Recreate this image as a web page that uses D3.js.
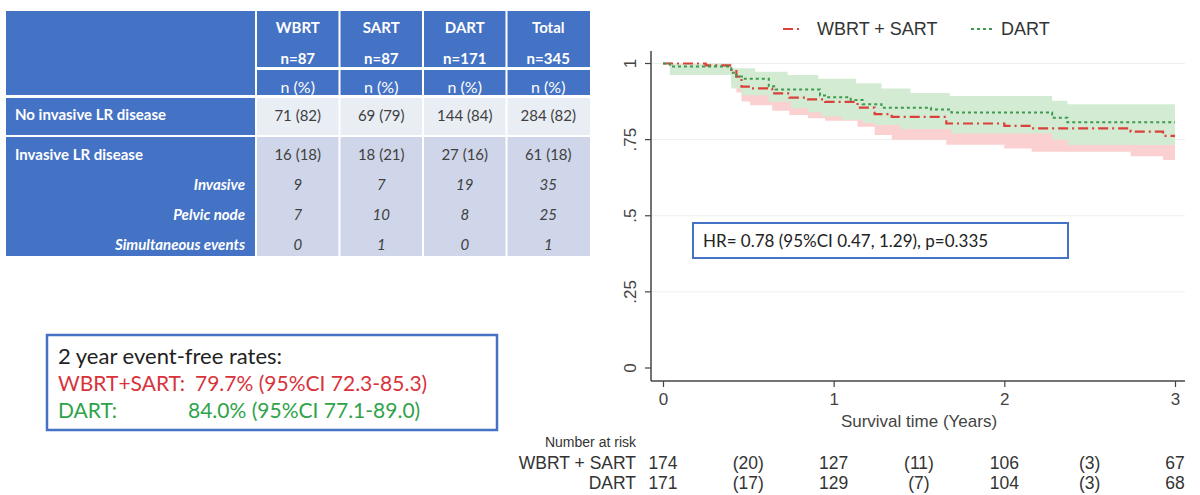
<!DOCTYPE html>
<html>
<head>
<meta charset="utf-8">
<script src="https://cdn.jsdelivr.net/npm/d3@7"></script>
<style>
  body { margin: 0; background: #fff; }
  svg { display: block; }
</style>
</head>
<body>
<svg width="1200" height="495"></svg>
<script>
// ---- table data ----
var tableCols = ["WBRT", "SART", "DART", "Total"];
var tableN = ["n=87", "n=87", "n=171", "n=345"];
var noInvasive = ["71 (82)", "69 (79)", "144 (84)", "284 (82)"];
var invasiveLR = ["16 (18)", "18 (21)", "27 (16)", "61 (18)"];
var subLabels = ["Invasive", "Pelvic node", "Simultaneous events"];
var subValues = [
  ["9", "7", "19", "35"],
  ["7", "10", "8", "25"],
  ["0", "1", "0", "1"]
];

// ---- KM data ----
var wsTime = [0, 0.25, 0.40, 0.43, 0.46, 0.51, 0.64, 0.74, 0.85, 0.95, 1.14, 1.24, 1.34, 1.66, 2.00, 2.16, 2.74, 2.93, 3.0];
var wsSurv = [1, 0.994, 0.979, 0.957, 0.924, 0.918, 0.902, 0.888, 0.882, 0.874, 0.855, 0.834, 0.825, 0.803, 0.795, 0.787, 0.776, 0.762, 0.762];
var wsLo = [1, 0.965, 0.93, 0.905, 0.875, 0.863, 0.845, 0.831, 0.820, 0.812, 0.792, 0.765, 0.750, 0.733, 0.721, 0.710, 0.695, 0.683, 0.683];
var wsHi = [1, 1, 0.98, 0.97, 0.955, 0.95, 0.94, 0.93, 0.925, 0.92, 0.90, 0.885, 0.877, 0.86, 0.853, 0.846, 0.838, 0.826, 0.826];

var dartTime = [0, 0.04, 0.40, 0.43, 0.47, 0.62, 0.66, 0.92, 0.96, 1.10, 1.17, 1.28, 1.57, 1.69, 2.28, 2.37, 3.0];
var dartSurv = [1, 0.990, 0.970, 0.957, 0.950, 0.925, 0.915, 0.895, 0.889, 0.880, 0.866, 0.855, 0.849, 0.839, 0.822, 0.807, 0.807];

var dartHiTime = [0, 0.40, 0.54, 0.73, 0.91, 1.13, 1.28, 1.45, 1.68, 2.28, 2.37, 3.0];
var dartHi = [1, 0.984, 0.973, 0.962, 0.950, 0.935, 0.918, 0.903, 0.893, 0.878, 0.866, 0.866];
var dartLoTime = [0, 0.04, 0.40, 0.46, 0.62, 0.75, 0.85, 0.93, 1.05, 1.17, 1.24, 1.39, 1.69, 2.28, 2.37, 3.0];
var dartLo = [1, 0.962, 0.918, 0.896, 0.874, 0.853, 0.840, 0.826, 0.815, 0.805, 0.798, 0.785, 0.770, 0.750, 0.732, 0.732];

var yTicks = [0, 0.25, 0.5, 0.75, 1];
var yTickLabels = ["0", ".25", ".5", ".75", "1"];
var xTicks = [0, 1, 2, 3];

var riskTimes = [0, 0.5, 1, 1.5, 2, 2.5, 3];
var riskWS = ["174", "(20)", "127", "(11)", "106", "(3)", "67"];
var riskDART = ["171", "(17)", "129", "(7)", "104", "(3)", "68"];

var svg = d3.select("svg");
var tblFont = "Lato, 'Open Sans', sans-serif";
var kmFont = "'Liberation Sans', Arial, sans-serif";
var blue = "#4472c4";

// ---- table ----
var tx = d3.scaleBand().domain(tableCols).range([256, 590]).paddingInner(0);
var t = svg.append("g");

t.append("rect").attr("x", 6).attr("y", 11).attr("width", 584).attr("height", 245).attr("fill", blue);
// data cell backgrounds
t.selectAll(".r1").data(tableCols).enter().append("rect")
  .attr("x", function(d) { return tx(d); })
  .attr("y", 98).attr("width", tx.bandwidth()).attr("height", 37)
  .attr("fill", "#e9edf4");
t.selectAll(".r2").data(tableCols).enter().append("rect")
  .attr("x", function(d) { return tx(d); })
  .attr("y", 137).attr("width", tx.bandwidth()).attr("height", 119)
  .attr("fill", "#cfd6e9");
// white separators
t.append("rect").attr("x", 256).attr("y", 67).attr("width", 334).attr("height", 3).attr("fill", "#fff");
t.append("rect").attr("x", 6).attr("y", 95).attr("width", 584).attr("height", 3).attr("fill", "#fff");
t.append("rect").attr("x", 6).attr("y", 135).attr("width", 584).attr("height", 2).attr("fill", "#fff");
t.selectAll(".vsep").data(tableCols).enter().append("rect")
  .attr("x", function(d) { return tx(d) - 1; })
  .attr("y", 11).attr("width", 2).attr("height", 245).attr("fill", "#fff");

function cellText(sel, y, vals, opts) {
  sel.selectAll(null).data(vals).enter().append("text")
    .attr("x", function(d, i) { return tx(tableCols[i]) + tx.bandwidth() / 2; })
    .attr("y", y)
    .attr("text-anchor", "middle")
    .attr("dominant-baseline", "central")
    .attr("font-family", tblFont)
    .attr("font-size", opts.size || 15)
    .attr("font-weight", opts.bold ? "bold" : "normal")
    .attr("font-style", opts.italic ? "italic" : "normal")
    .attr("fill", opts.color)
    .text(function(d) { return d; });
}
cellText(t, 27, tableCols, { bold: true, color: "#fff", size: 15 });
cellText(t, 58, tableN, { bold: true, color: "#fff", size: 15 });
cellText(t, 86, tableCols.map(function() { return "n (%)"; }), { color: "#fff", size: 16 });
cellText(t, 115, noInvasive, { color: "#404040" });
cellText(t, 154, invasiveLR, { color: "#404040" });
subValues.forEach(function(row, i) {
  cellText(t, 184 + i * 30, row, { italic: true, color: "#404040" });
});

t.append("text").attr("x", 15).attr("y", 114).attr("dominant-baseline", "central")
  .attr("font-family", tblFont).attr("font-size", 15).attr("font-weight", "bold")
  .attr("fill", "#fff").text("No invasive LR disease");
t.append("text").attr("x", 15).attr("y", 154).attr("dominant-baseline", "central")
  .attr("font-family", tblFont).attr("font-size", 15).attr("font-weight", "bold")
  .attr("fill", "#fff").text("Invasive LR disease");
t.selectAll(".sub").data(subLabels).enter().append("text")
  .attr("x", 245).attr("y", function(d, i) { return 184 + i * 30; })
  .attr("text-anchor", "end").attr("dominant-baseline", "central")
  .attr("font-family", tblFont).attr("font-size", 15)
  .attr("font-weight", "bold").attr("font-style", "italic")
  .attr("fill", "#fff").text(function(d) { return d; });

// ---- event-free box ----
var b = svg.append("g");
b.append("rect").attr("x", 47).attr("y", 335).attr("width", 450).attr("height", 95)
  .attr("fill", "#fff").attr("stroke", blue).attr("stroke-width", 2.5);
b.append("text").attr("x", 58).attr("y", 364).attr("font-family", tblFont).attr("font-size", 22)
  .attr("fill", "#222").text("2 year event-free rates:");
b.append("text").attr("x", 58).attr("y", 391).attr("font-family", tblFont).attr("font-size", 21)
  .attr("fill", "#d8333c").text("WBRT+SART:");
b.append("text").attr("x", 195).attr("y", 391).attr("font-family", tblFont).attr("font-size", 21)
  .attr("fill", "#d8333c").text("79.7% (95%CI 72.3-85.3)");
b.append("text").attr("x", 58).attr("y", 418).attr("font-family", tblFont).attr("font-size", 21)
  .attr("fill", "#2fa34a").text("DART:");
b.append("text").attr("x", 188).attr("y", 418).attr("font-family", tblFont).attr("font-size", 21)
  .attr("fill", "#2fa34a").text("84.0% (95%CI 77.1-89.0)");

// ---- KM plot ----
var x = d3.scaleLinear().domain([0, 3]).range([663, 1175]);
var y = d3.scaleLinear().domain([0, 1]).range([368, 63.5]);
var g = svg.append("g");

g.selectAll(".grid").data(yTicks.filter(function(d) { return d > 0; })).enter().append("line")
  .attr("x1", 651).attr("x2", 1185)
  .attr("y1", function(d) { return y(d); }).attr("y2", function(d) { return y(d); })
  .attr("stroke", "#e9eff2").attr("stroke-width", 1);

function pts(ts, vs) {
  return ts.map(function(d, i) { return [d, vs[i]]; });
}
var band = d3.area().curve(d3.curveStepAfter)
  .x(function(d) { return x(d[0]); })
  .y0(function(d) { return y(d[1]); })
  .y1(function(d) { return y(d[2]); });

// merge lo/hi step functions on a common grid
function stepVal(ts, vs, tt) {
  var v = vs[0];
  for (var i = 0; i < ts.length; i++) if (ts[i] <= tt + 1e-9) v = vs[i];
  return v;
}
function bandPts(loT, lo, hiT, hi) {
  var all = Array.from(new Set(loT.concat(hiT))).sort(d3.ascending);
  return all.map(function(tt) { return [tt, stepVal(loT, lo, tt), stepVal(hiT, hi, tt)]; });
}

g.append("path").datum(bandPts(wsTime, wsLo, wsTime, wsHi))
  .attr("d", band).attr("fill", "#fbd0d1");
g.append("path").datum(bandPts(dartLoTime, dartLo, dartHiTime, dartHi))
  .attr("d", band).attr("fill", "#d3ebd3");

var line = d3.line().curve(d3.curveStepAfter)
  .x(function(d) { return x(d[0]); })
  .y(function(d) { return y(d[1]); });

g.append("path").datum(pts(wsTime, wsSurv)).attr("d", line)
  .attr("fill", "none").attr("stroke", "#d9413a").attr("stroke-width", 2.2)
  .attr("stroke-dasharray", "10,4,2,4");
g.append("path").datum(pts(dartTime, dartSurv)).attr("d", line)
  .attr("fill", "none").attr("stroke", "#3e9a4e").attr("stroke-width", 2)
  .attr("stroke-dasharray", "3,3");

// axes
g.append("line").attr("x1", 651).attr("x2", 651).attr("y1", 51).attr("y2", 381)
  .attr("stroke", "#444").attr("stroke-width", 1.5);
g.append("line").attr("x1", 651).attr("x2", 1185).attr("y1", 381).attr("y2", 381)
  .attr("stroke", "#444").attr("stroke-width", 1.5);

g.selectAll(".ytick").data(yTicks).enter().append("line")
  .attr("x1", 645).attr("x2", 651)
  .attr("y1", function(d) { return y(d); }).attr("y2", function(d) { return y(d); })
  .attr("stroke", "#444").attr("stroke-width", 1.2);
g.selectAll(".ylab").data(yTicks).enter().append("text")
  .attr("transform", function(d) { return "translate(630," + y(d) + ") rotate(-90)"; })
  .attr("text-anchor", "middle").attr("dominant-baseline", "central")
  .attr("font-family", kmFont).attr("font-size", 17).attr("fill", "#444")
  .text(function(d, i) { return yTickLabels[i]; });

g.append("g")
  .attr("transform", "translate(0,381)")
  .call(d3.axisBottom(x).tickValues(xTicks).tickSize(6).tickPadding(6).tickFormat(d3.format("d")))
  .call(function(a) { a.select(".domain").remove(); })
  .call(function(a) {
    a.selectAll("line").attr("stroke", "#444").attr("stroke-width", 1.2);
    a.selectAll("text").attr("font-family", kmFont).attr("font-size", 17).attr("fill", "#444");
  });

g.append("text").attr("x", 919).attr("y", 427).attr("text-anchor", "middle")
  .attr("font-family", kmFont).attr("font-size", 17).attr("fill", "#444")
  .text("Survival time (Years)");

// legend
g.append("line").attr("x1", 783).attr("x2", 803).attr("y1", 29).attr("y2", 29)
  .attr("stroke", "#d9413a").attr("stroke-width", 2.2).attr("stroke-dasharray", "10,4,2,4");
g.append("text").attr("x", 817).attr("y", 35).attr("font-family", kmFont).attr("font-size", 18)
  .attr("fill", "#333").text("WBRT + SART");
g.append("line").attr("x1", 971).attr("x2", 995).attr("y1", 29).attr("y2", 29)
  .attr("stroke", "#3e9a4e").attr("stroke-width", 2).attr("stroke-dasharray", "3,3");
g.append("text").attr("x", 1001).attr("y", 35).attr("font-family", kmFont).attr("font-size", 18)
  .attr("fill", "#333").text("DART");

// HR box
g.append("rect").attr("x", 693).attr("y", 223).attr("width", 375).attr("height", 35)
  .attr("fill", "#fff").attr("stroke", blue).attr("stroke-width", 2);
g.append("text").attr("x", 703).attr("y", 247).attr("font-family", tblFont).attr("font-size", 17)
  .attr("fill", "#222").text("HR= 0.78 (95%CI 0.47, 1.29), p=0.335");

// number at risk
g.append("text").attr("x", 636).attr("y", 447).attr("text-anchor", "end")
  .attr("font-family", kmFont).attr("font-size", 14).attr("fill", "#333").text("Number at risk");
g.append("text").attr("x", 636).attr("y", 469).attr("text-anchor", "end")
  .attr("font-family", kmFont).attr("font-size", 17.5).attr("fill", "#333").text("WBRT + SART");
g.append("text").attr("x", 636).attr("y", 489).attr("text-anchor", "end")
  .attr("font-family", kmFont).attr("font-size", 17.5).attr("fill", "#333").text("DART");
g.selectAll(".rws").data(riskWS).enter().append("text")
  .attr("x", function(d, i) { return x(riskTimes[i]); }).attr("y", 469)
  .attr("text-anchor", "middle").attr("font-family", kmFont).attr("font-size", 17.5)
  .attr("fill", "#333").text(function(d) { return d; });
g.selectAll(".rdart").data(riskDART).enter().append("text")
  .attr("x", function(d, i) { return x(riskTimes[i]); }).attr("y", 489)
  .attr("text-anchor", "middle").attr("font-family", kmFont).attr("font-size", 17.5)
  .attr("fill", "#333").text(function(d) { return d; });
</script>
</body>
</html>
